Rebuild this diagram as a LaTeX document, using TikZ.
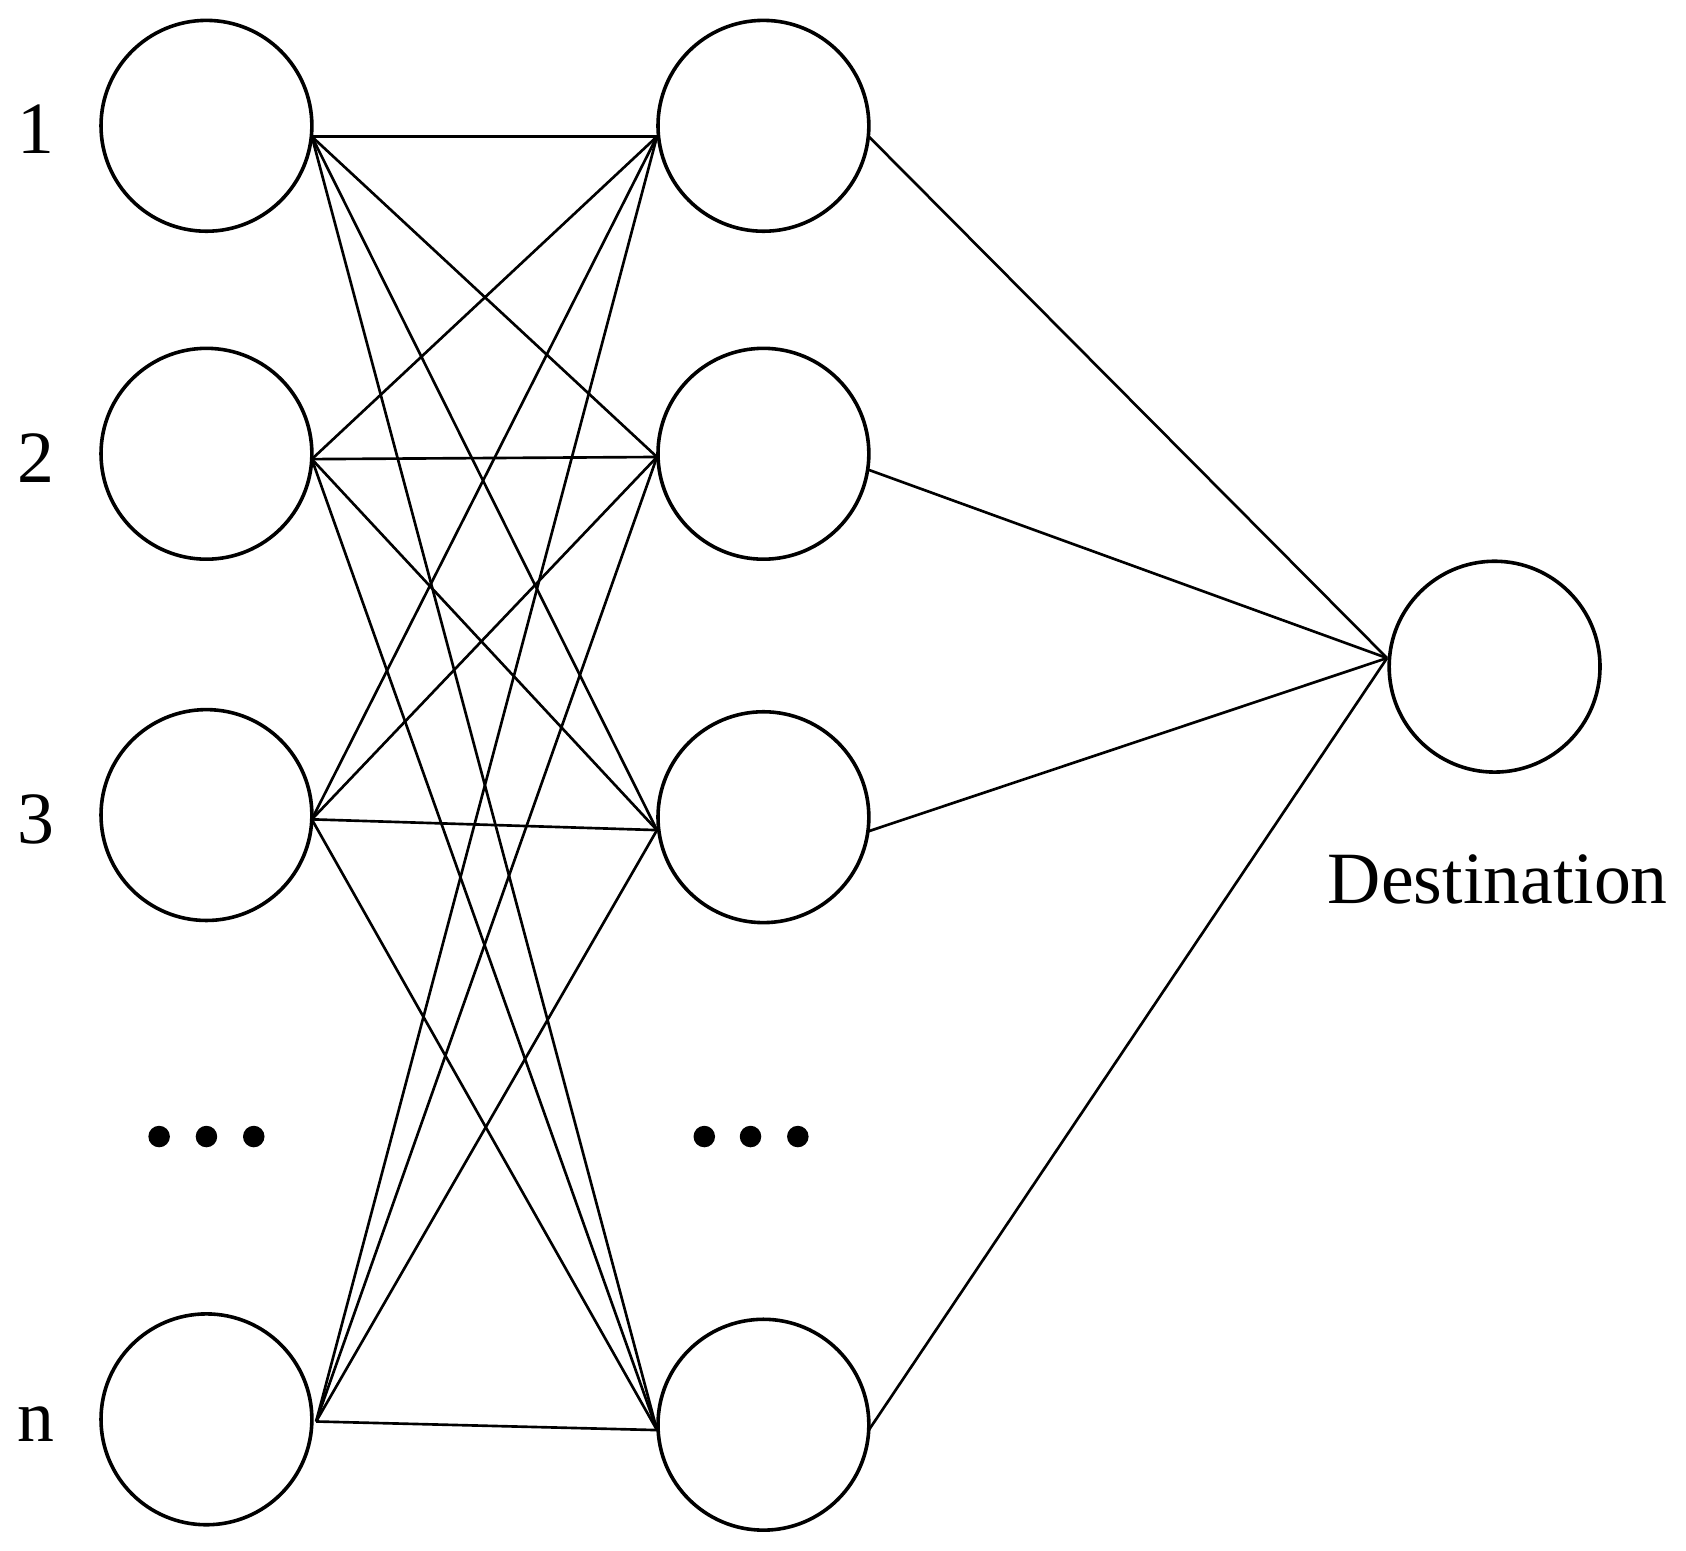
\documentclass[tikz,border=0pt]{standalone}
\usepackage{fontspec}
\setmainfont{Liberation Serif}
\begin{document}
\begin{tikzpicture}[x=0.01cm,y=-0.01cm,
  nd/.style={circle,draw,line width=0.95pt,minimum size=1.96cm,inner sep=0pt},
  ed/.style={line width=0.7pt},
  lb/.style={font=\fontsize{19.5}{23}\selectfont},
  dt/.style={circle,fill,inner sep=0pt,minimum size=0.2cm}]
\useasboundingbox (0,0) rectangle (1568,1442);
\node[nd] (L1) at (192,117) {};
\node[nd] (L2) at (192,422) {};
\node[nd] (L3) at (192,758) {};
\node[nd] (Ln) at (192,1320) {};
\node[nd] (M1) at (710,117) {};
\node[nd] (M2) at (710,422) {};
\node[nd] (M3) at (710,760) {};
\node[nd] (Mn) at (710,1325) {};
\node[nd] (D) at (1390,620) {};
\node[lb] (t1) at (33,120) {1};
\node[lb] (t2) at (33,426) {2};
\node[lb] (t3) at (33,762) {3};
\node[lb] (tn) at (33,1324) {n};
\node[lb] (td) at (1393,818) {Destination};
\foreach \i/\x in {1/148,2/192,3/236}{\node[dt] (a\i) at (\x,1057) {};}
\foreach \i/\x in {1/655,2/698,3/742}{\node[dt] (b\i) at (\x,1057) {};}
\coordinate (l1) at (290,127);
\coordinate (l2) at (290,427);
\coordinate (l3) at (290,762);
\coordinate (ln) at (294,1322);
\coordinate (m1) at (611,127);
\coordinate (m2) at (611,425);
\coordinate (m3) at (611,772);
\coordinate (mn) at (611,1330);
\coordinate (r1) at (808,127);
\coordinate (r2) at (808,437);
\coordinate (r3) at (808,773);
\coordinate (rn) at (808,1330);
\coordinate (d) at (1290,612);
\foreach \a in {l1,l2,l3,ln}{\foreach \b in {m1,m2,m3,mn}{\draw[ed] (\a) -- (\b);}}
\foreach \b in {r1,r2,r3,rn}{\draw[ed] (\b) -- (d);}
\end{tikzpicture}
\end{document}
